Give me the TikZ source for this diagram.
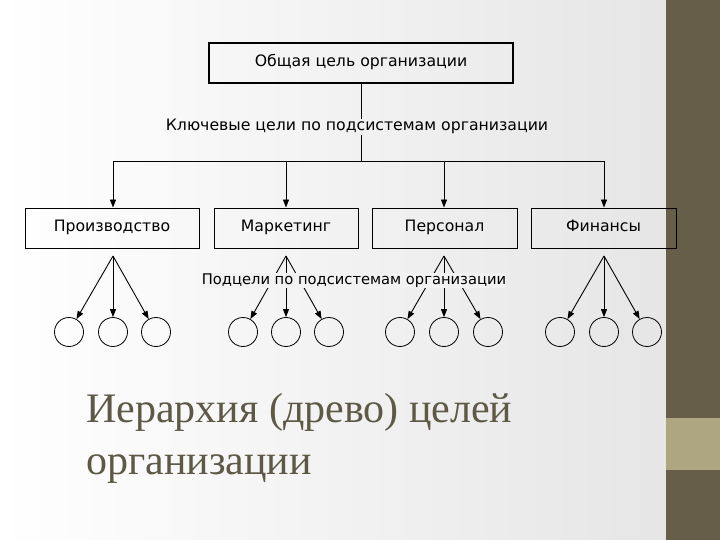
\documentclass[tikz,border=0pt]{standalone}
\usepackage{fontspec}
\setmainfont{Liberation Serif}
\newfontfamily\diagfont{DejaVu Sans}
\usepackage{tikz}
\usetikzlibrary{arrows.meta, positioning, calc}
\definecolor{bandcol}{RGB}{102,94,72}
\definecolor{bandlight}{RGB}{173,166,128}
\definecolor{titlecol}{RGB}{94,89,70}
\tikzset{
  goalbox/.style={draw, rectangle, minimum height=40pt, inner sep=0pt, line width=0.9pt,
    text height=11.5pt, text depth=3.5pt, font=\diagfont\fontsize{15.7}{18}\selectfont},
  levellabel/.style={inner sep=0pt, text height=11.5pt, text depth=3.5pt,
    font=\diagfont\fontsize{15.7}{18}\selectfont},
  leaf/.style={draw, circle, minimum size=29pt, inner sep=0pt, line width=0.8pt},
  tiparrow/.style={-{Triangle[length=8pt,width=6pt]}, line width=0.9pt},
  titletext/.style={inner sep=0pt, text=titlecol, font=\fontsize{42}{50}\selectfont},
}

\begin{document}
\begin{tikzpicture}[x=1pt, y=-1pt]

        % ==========================================
        % BACKGROUND: slide and side band
        % ==========================================
        \useasboundingbox (0,0) rectangle (720,540);
        \shade[left color=white, right color=black!10] (0,0) rectangle (666,540);
        \fill[bandcol] (666,0) rectangle (720,540);
        \fill[bandlight] (666,418) rectangle (720,470);

        % ==========================================
        % TOP LEVEL: general goal and key goals
        % ==========================================
        \node[goalbox, minimum width=304pt, line width=1.3pt] (goal) at (361,63) {Общая цель организации};
        \node[levellabel] (keylabel) at (357,127) {Ключевые цели по подсистемам организации};
        \coordinate (bus) at (361,161);

        \draw[line width=0.9pt] (goal.south) -- (goal.south |- keylabel.north);
        \draw[line width=0.9pt] (goal.south |- keylabel.south) -- (bus);

        % 1. Subsystem boxes
        \node[goalbox, minimum width=174pt] (prod) at (112,228) {Производство};
        \node[goalbox, minimum width=144pt] (mark) at (286,228) {Маркетинг};
        \node[goalbox, minimum width=145pt] (pers) at (444.5,228) {Персонал};
        \node[goalbox, minimum width=145pt] (fin) at (603.5,228) {Финансы};

        % 2. Bus and arrows down to the boxes
        \draw[line width=0.9pt] (113,161) -- (604,161);
        \draw[tiparrow] (113,161) -- (prod.north -| 113,0);
        \draw[tiparrow] (mark.north |- bus) -- (mark.north);
        \draw[tiparrow] (444,161) -- (pers.north -| 444,0);
        \draw[tiparrow] (604,161) -- (fin.north -| 604,0);

        % ==========================================
        % BOTTOM LEVEL: sub-goals
        % ==========================================
        \coordinate (prodroot) at (113,256);
        \coordinate (markroot) at (286,256);
        \coordinate (persroot) at (444,256);
        \coordinate (finroot) at (604,256);

        % 3. Leaf circles
        \node[leaf] (prod1) at (69,332) {};
        \node[leaf] (prod2) at (113,332) {};
        \node[leaf] (prod3) at (156,332) {};
        \node[leaf] (mark1) at (243,332) {};
        \node[leaf] (mark2) at (286,332) {};
        \node[leaf] (mark3) at (329,332) {};
        \node[leaf] (pers1) at (400,332) {};
        \node[leaf] (pers2) at (444,332) {};
        \node[leaf] (pers3) at (488,332) {};
        \node[leaf] (fin1) at (560,332) {};
        \node[leaf] (fin2) at (604,332) {};
        \node[leaf] (fin3) at (647,332) {};

        % 4. Arrows to the leaves
        \draw[tiparrow] (prodroot) -- (prod1);
        \draw[tiparrow] (prodroot) -- (prod2);
        \draw[tiparrow] (prodroot) -- (prod3);
        \draw[tiparrow] (markroot) -- (mark1);
        \draw[tiparrow] (markroot) -- (mark2);
        \draw[tiparrow] (markroot) -- (mark3);
        \draw[tiparrow] (persroot) -- (pers1);
        \draw[tiparrow] (persroot) -- (pers2);
        \draw[tiparrow] (persroot) -- (pers3);
        \draw[tiparrow] (finroot) -- (fin1);
        \draw[tiparrow] (finroot) -- (fin2);
        \draw[tiparrow] (finroot) -- (fin3);

        % 5. Sub-goal label (covers the arrows)
        \node[levellabel, fill=black!5, font=\diagfont\fontsize{14.7}{17}\selectfont] (sublabel) at (354,280) {Подцели по подсистемам организации};

        % ==========================================
        % SLIDE TITLE
        % ==========================================
        \node[titletext, anchor=base west] (title1) at (86,422) {Иерархия (древо) целей};
        \node[titletext, anchor=base west] (title2) at (86,474) {организации};

\end{tikzpicture}
\end{document}
